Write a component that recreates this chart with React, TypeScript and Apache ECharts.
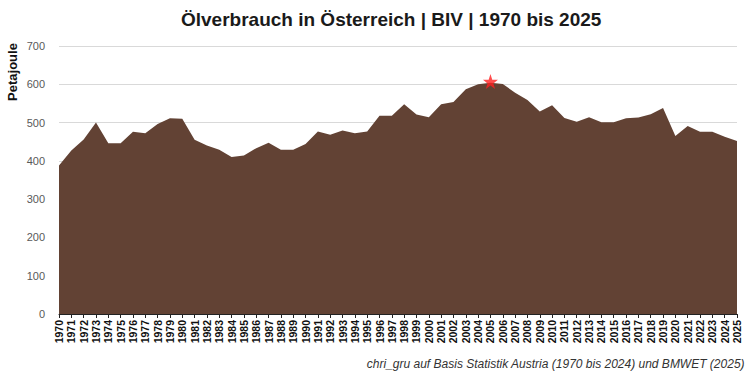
import React, { useEffect, useRef } from "react";
import * as echarts from "echarts";

const years: string[] = [];
for (let y = 1970; y <= 2025; y++) years.push(String(y));

const consumption = [
  388, 427, 456, 500, 446, 446, 476, 472, 496, 511,
  510, 455, 440, 429, 410, 414, 433, 447, 429, 429,
  444, 477, 468, 479, 472, 477, 518, 518, 548, 521,
  514, 548, 554, 587, 600, 604, 601, 578, 559, 529,
  545, 512, 502, 514, 501, 501, 511, 513, 522, 538,
  465, 491, 476, 476, 463, 452,
];

const peakYear = "2005";
const peakValue = 607;

const STAR =
  "path://M50,0 L61.8,35.4 L99,35.4 L69,57.3 L80.3,92.7 L50,70.8 L19.7,92.7 L31,57.3 L1,35.4 L38.2,35.4 Z";

export default function App() {
  const ref = useRef<HTMLDivElement>(null);
  useEffect(() => {
    document.body.style.margin = "0";
    if (!ref.current) return;
    const chart = echarts.init(ref.current, null, { renderer: "svg" });
    chart.setOption({
      animation: false,
      backgroundColor: "#ffffff",
      title: {
        text: "Ölverbrauch in Österreich | BIV | 1970 bis 2025",
        left: 176,
        top: 5,
        textStyle: {
          fontFamily: "Liberation Sans, Arial",
          fontWeight: "bold",
          fontSize: 19,
          color: "#1a1a1a",
        },
      },
      graphic: [
        {
          type: "text",
          x: 12,
          y: 72,
          rotation: Math.PI / 2,
          style: {
            text: "Petajoule",
            fontFamily: "Liberation Sans, Arial",
            fontWeight: "bold",
            fontSize: 13,
            fill: "#111111",
            align: "center",
            verticalAlign: "middle",
          },
        },
        {
          type: "text",
          right: 7,
          top: 358,
          style: {
            text: "chri_gru auf Basis Statistik Austria (1970 bis 2024) und BMWET (2025)",
            fontFamily: "Liberation Sans, Arial",
            fontStyle: "italic",
            fontSize: 12,
            fill: "#333333",
          },
        },
      ],
      grid: { left: 59, right: 15, top: 46, bottom: 59 },
      xAxis: {
        type: "category",
        data: years,
        boundaryGap: false,
        axisLine: { show: true, lineStyle: { color: "#222222", width: 1 } },
        axisTick: { show: true, interval: 0, length: 4, lineStyle: { color: "#222222" } },
        axisLabel: {
          interval: 0,
          rotate: 90,
          fontFamily: "Liberation Sans, Arial",
          fontWeight: "bold",
          fontSize: 10.5,
          color: "#111111",
          margin: 6,
        },
      },
      yAxis: {
        type: "value",
        min: 0,
        max: 700,
        interval: 100,
        axisLine: { show: false },
        axisTick: { show: false },
        splitLine: { lineStyle: { color: "#d9d9d9", width: 1 } },
        axisLabel: {
          fontFamily: "Liberation Sans, Arial",
          fontSize: 11,
          color: "#595959",
          margin: 14,
        },
      },
      series: [
        {
          type: "line",
          data: consumption,
          symbol: "none",
          lineStyle: { width: 0 },
          areaStyle: { color: "#624234", opacity: 1 },
          z: 2,
        },
        {
          type: "scatter",
          data: [[peakYear, peakValue]],
          symbol: STAR,
          symbolSize: 15,
          itemStyle: { color: "#ff2020" },
          z: 5,
        },
      ],
    });
    return () => chart.dispose();
  }, []);
  return <div ref={ref} style={{ width: 752, height: 373 }} />;
}
